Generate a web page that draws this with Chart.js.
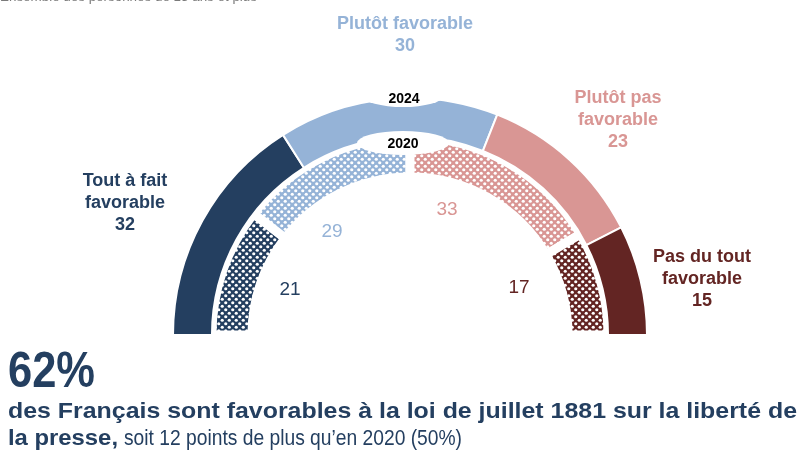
<!DOCTYPE html>
<html>
<head>
<meta charset="utf-8">
<script src="https://cdn.jsdelivr.net/npm/chart.js@4.4.1/dist/chart.umd.min.js"></script>
<style>
  html, body { margin: 0; padding: 0; background: #fff; }
</style>
</head>
<body>
<canvas id="myChart" width="798" height="453"></canvas>
<script>
// data
const categories = [['Tout à fait', 'favorable'], ['Plutôt favorable'], ['Plutôt pas', 'favorable'], ['Pas du tout', 'favorable']];
const years = ['2024', '2020'];
const values2024 = [32, 30, 23, 15];
const values2020 = [21, 29, 33, 17];
const colors = ['#243f60', '#95b3d7', '#d99694', '#632523'];

const FONT = "'Liberation Sans', Arial, sans-serif";

// checker pattern for the 2020 ring
function makePattern(color) {
    const c = document.createElement('canvas');
    c.width = 7;
    c.height = 7;
    const g = c.getContext('2d');
    g.fillStyle = color;
    g.fillRect(0, 0, 7, 7);
    g.fillStyle = '#fff';
    g.beginPath(); g.arc(1.75, 1.75, 1.6, 0, Math.PI * 2); g.fill();
    g.beginPath(); g.arc(5.25, 5.25, 1.6, 0, Math.PI * 2); g.fill();
    return g.createPattern(c, 'repeat');
}

// draw text squeezed/stretched to a given width
function fitText(ctx, text, x, y, width) {
    const w = ctx.measureText(text).width;
    ctx.save();
    ctx.translate(x, y);
    ctx.scale(width / w, 1);
    ctx.fillText(text, 0, 0);
    ctx.restore();
}

// label offsets from the arc centre (first baseline for outer labels)
const outerLabelPos = [[-285, -149], [-5, -306], [208, -232], [292, -73]];
const innerLabelPos = [[-120, -45], [-78, -103], [37, -125], [109, -47]];

const annotations = {
    id: 'annotations',
    afterDatasetsDraw(chart) {
        const ctx = chart.ctx;
        const arc = chart.getDatasetMeta(0).data[0];
        const cx = arc.x, cy = arc.y, R = arc.outerRadius;
        ctx.save();

        // year bubbles
        ctx.fillStyle = '#fff';
        ctx.beginPath(); ctx.ellipse(cx - 7, cy - R - 2, 40, 11, 0, 0, Math.PI * 2); ctx.fill();
        ctx.beginPath(); ctx.ellipse(cx - 7, cy - 192, 46, 12, 0, 0, Math.PI * 2); ctx.fill();
        ctx.fillStyle = '#000';
        ctx.font = 'bold 14px ' + FONT;
        ctx.textAlign = 'center';
        ctx.textBaseline = 'middle';
        ctx.fillText(years[0], cx - 6, cy - R + 1);
        ctx.fillText(years[1], cx - 7, cy - 191);

        // outer ring labels
        ctx.textBaseline = 'alphabetic';
        ctx.font = 'bold 18px ' + FONT;
        categories.forEach((lines, i) => {
            ctx.fillStyle = colors[i];
            const x = cx + outerLabelPos[i][0];
            let y = cy + outerLabelPos[i][1];
            lines.concat([String(values2024[i])]).forEach(t => {
                ctx.fillText(t, x, y);
                y += 22;
            });
        });

        // inner ring values
        ctx.font = '19px ' + FONT;
        ctx.textBaseline = 'middle';
        values2020.forEach((v, i) => {
            ctx.fillStyle = colors[i];
            ctx.fillText(String(v), cx + innerLabelPos[i][0], cy + innerLabelPos[i][1]);
        });

        // texts around the chart
        ctx.textAlign = 'left';
        ctx.textBaseline = 'alphabetic';
        ctx.fillStyle = '#7a7a7a';
        ctx.font = '13px ' + FONT;
        fitText(ctx, 'Ensemble des personnes de 15 ans et plus', 0, 1, 257);

        ctx.fillStyle = '#243f60';
        ctx.font = 'bold 50px ' + FONT;
        fitText(ctx, '62%', 8, 387, 87);
        ctx.font = 'bold 22px ' + FONT;
        fitText(ctx, 'des Français sont favorables à la loi de juillet 1881 sur la liberté de', 8, 418, 789);
        fitText(ctx, 'la presse,', 8, 445, 110);
        ctx.font = '22px ' + FONT;
        fitText(ctx, 'soit 12 points de plus qu\u2019en 2020 (50%)', 124, 445, 338);
        ctx.restore();
    }
};

const ctx = document.getElementById('myChart').getContext('2d');

const config = {
    type: 'doughnut',
    data: {
        labels: categories.map(l => l.join(' ')),
        datasets: [{
            label: years[0],
            data: values2024,
            backgroundColor: colors,
            borderColor: '#fff',
            borderWidth: 2,
            weight: 39
        }, {
            label: years[1],
            data: values2020,
            backgroundColor: colors.map(makePattern),
            borderColor: '#fff',
            borderWidth: 9,
            weight: 40
        }]
    },
    options: {
        responsive: false,
        animation: false,
        rotation: -90,
        circumference: 180,
        radius: 237,
        cutout: '66.7%',
        layout: { padding: { left: 22, right: 0, top: 0, bottom: 20 } },
        plugins: {
            legend: { display: false },
            tooltip: { enabled: false }
        }
    },
    plugins: [annotations]
};

const myChart = new Chart(ctx, config);
</script>
</body>
</html>
